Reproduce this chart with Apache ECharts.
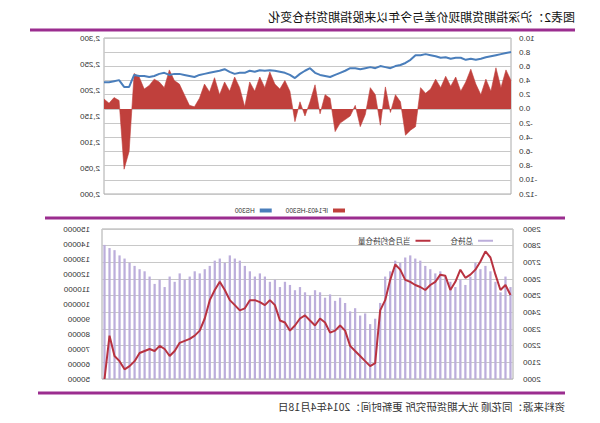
<!DOCTYPE html>
<html>
<head>
<meta charset="utf-8">
<script src="https://cdn.jsdelivr.net/npm/echarts@6/dist/echarts.min.js"></script>
<style>
html,body{margin:0;padding:0;background:#fff;}
#chart{width:600px;height:423px;transform:scaleX(-1);transform-origin:50% 50%;}
</style>
</head>
<body>
<div id="chart"></div>
<script>
// Top panel: basis IF1403 - HS300 and HS300 index
const basisValues = [4.0,5.5,3.0,5.8,2.5,4.2,2.0,3.5,5.6,3.8,
  2.5,4.5,3.2,4.6,3.0,4.2,2.8,2.2,3.0,-2.5,
  -3.0,-3.7,1.0,2.0,-0.5,3.1,-2.3,2.0,3.0,-0.8,
  -2.5,0.5,-1.0,-1.5,-2.0,-3.2,1.5,2.0,-0.7,3.4,
  1.0,-1.0,1.0,-1.8,2.5,4.0,2.8,3.5,5.2,3.0,
  4.5,2.5,3.8,0.3,3.0,4.5,2.5,3.8,2.0,4.4,
  2.4,3.5,1.5,0.3,0.5,2.0,3.5,4.0,5.5,3.0,
  3.8,4.2,3.3,2.8,4.5,5.0,-6.0,-8.5,1.2,1.6,
  0.8,1.4];
const hs300Values = [2273,2271,2269,2267,2265,2263,2260,2258,2260,2258,
  2262,2262,2260,2263,2262,2265,2267,2269,2267,2267,
  2258,2252,2248,2246,2242,2244,2246,2242,2244,2242,
  2240,2242,2242,2237,2233,2229,2225,2227,2229,2233,
  2242,2237,2231,2223,2229,2233,2235,2237,2238,2237,
  2238,2235,2237,2233,2233,2231,2235,2240,2237,2235,
  2233,2231,2229,2225,2227,2229,2231,2231,2229,2233,
  2231,2227,2225,2227,2227,2229,2206,2206,2219,2217,
  2215,2215];
// Bottom panel: total open interest (bars) and red line
const totalOI = [111300,118300,107800,114800,121800,125400,123200,127500,118300,112700,
  116200,111300,114800,118300,121800,120400,123200,125400,128900,130300,
  132400,131000,127500,128900,121800,118300,100700,90200,86600,93700,
  92300,97200,95100,100700,104200,102100,106400,104200,107800,109200,
  105600,107800,111300,109200,112700,114800,111300,116200,114800,118300,
  120400,118300,121800,125400,128900,130300,132400,127500,130300,128900,
  125400,123200,120400,121800,118300,116200,120400,114800,118300,111300,
  116200,113400,118300,121800,123200,125400,127500,130300,132400,135900,
  137300,139400];
const contractOI = [2504,2564,2534,2626,2729,2766,2705,2656,2626,2607,
  2656,2583,2534,2619,2626,2583,2564,2534,2552,2564,
  2583,2595,2656,2687,2595,2473,2412,2095,2077,2107,
  2138,2168,2199,2290,2321,2290,2278,2339,2363,2321,
  2351,2382,2363,2321,2290,2339,2351,2443,2473,2443,
  2461,2473,2473,2424,2412,2443,2473,2534,2583,2534,
  2473,2363,2290,2260,2241,2229,2217,2168,2138,2180,
  2199,2168,2180,2168,2156,2107,2077,2058,2107,2138,
  2260,2000];
const topCats = basisValues.map((_, i) => 'T' + (i + 1));
const botCats = totalOI.map((_, i) => 'B' + (i + 1));

const seriesNames = ['IF1403-HS300', 'HS300', '总持仓', '当月合约持仓量'];
const titleText = '图表2：沪深指期货期现价差与今年以来股指期货持仓变化';
const sourceText = '资料来源：同花顺 光大期货研究所 更新时间：2014年4月18日';

const chart = echarts.init(document.getElementById('chart'), null, {renderer: 'svg'});
const lab = {fontSize: 8, color: '#333', fontFamily: 'Liberation Sans'};
const purple = '#9b2d8f';
chart.setOption({
  animation: false,
  backgroundColor: '#fff',
  grid: [
    {left: 89, right: 104, top: 38, height: 156, show: true, borderColor: '#aaa', borderWidth: 1},
    {left: 87, right: 102, top: 229, height: 150, show: true, borderColor: '#aaa', borderWidth: 1}
  ],
  legend: [
    {left: 250, top: 202, itemWidth: 12, itemHeight: 4, itemGap: 14,
     textStyle: {fontSize: 6.5, color: '#333', fontFamily: 'Liberation Sans'},
     data: [{name: seriesNames[0], icon: 'rect'}, {name: seriesNames[1], icon: 'rect'}]},
    {left: 102, top: 232, itemWidth: 15, itemHeight: 2, itemGap: 20,
     textStyle: {fontSize: 7.5, color: '#333', fontFamily: 'Noto Sans CJK SC'},
     data: [{name: seriesNames[2], icon: 'rect'}, {name: seriesNames[3], icon: 'rect'}]}
  ],
  xAxis: [
    {type: 'category', gridIndex: 0, data: topCats, boundaryGap: false,
     axisLine: {show: false}, axisTick: {show: false}, axisLabel: {show: false}},
    {type: 'category', gridIndex: 1, data: botCats,
     axisLine: {show: false}, axisTick: {show: false}, axisLabel: {show: false}}
  ],
  yAxis: [
    {type: 'value', gridIndex: 0, position: 'left', min: -12, max: 10, interval: 2,
     axisLine: {show: false}, axisTick: {show: false},
     axisLabel: Object.assign({margin: 8, formatter: v => v.toFixed(1)}, lab),
     splitLine: {lineStyle: {color: '#c8c8c8', width: 1}}},
    {type: 'value', gridIndex: 0, position: 'right', min: 2000, max: 2300, interval: 50,
     axisLine: {show: false}, axisTick: {show: false},
     axisLabel: Object.assign({margin: 4, formatter: v => v.toLocaleString('en-US')}, lab),
     splitLine: {show: false}},
    {type: 'value', gridIndex: 1, position: 'left', min: 2000, max: 2900, interval: 100,
     axisLine: {show: false}, axisTick: {show: false},
     axisLabel: Object.assign({margin: 10, formatter: v => String(v)}, lab),
     splitLine: {lineStyle: {color: '#c8c8c8', width: 1}}},
    {type: 'value', gridIndex: 1, position: 'right', min: 50000, max: 150000, interval: 10000,
     axisLine: {show: false}, axisTick: {show: false},
     axisLabel: Object.assign({margin: 12, formatter: v => String(v)}, lab),
     splitLine: {show: false}}
  ],
  series: [
    {name: seriesNames[0], type: 'line', xAxisIndex: 0, yAxisIndex: 0, data: basisValues,
     symbol: 'none', color: '#c0403c', lineStyle: {width: 0.6, color: '#c0403c'},
     areaStyle: {color: '#c0403c', opacity: 1}, z: 2},
    {name: seriesNames[1], type: 'line', xAxisIndex: 0, yAxisIndex: 1, data: hs300Values,
     symbol: 'none', color: '#4a7ebb', lineStyle: {width: 2, color: '#4a7ebb'}, z: 3},
    {name: seriesNames[2], type: 'bar', xAxisIndex: 1, yAxisIndex: 3, data: totalOI,
     barWidth: '45%', color: '#bcaedb', itemStyle: {color: '#bcaedb'}, z: 2},
    {name: seriesNames[3], type: 'line', xAxisIndex: 1, yAxisIndex: 2, data: contractOI,
     symbol: 'none', color: '#b83240', lineStyle: {width: 2, color: '#b83240'}, z: 3}
  ],
  graphic: [
    {type: 'text', left: 25, top: 10,
     style: {text: titleText, fontSize: 12, fontWeight: 'normal', fill: '#111', fontFamily: 'Noto Sans CJK SC'}},
    {type: 'line', shape: {x1: 25, y1: 30, x2: 570, y2: 30}, style: {stroke: purple, lineWidth: 3}},
    {type: 'line', shape: {x1: 35, y1: 218, x2: 555, y2: 218}, style: {stroke: purple, lineWidth: 3}},
    {type: 'line', shape: {x1: 35, y1: 393, x2: 562, y2: 393}, style: {stroke: purple, lineWidth: 3}},
    {type: 'text', left: 35, top: 401,
     style: {text: sourceText, fontSize: 10.5, fill: '#333', fontFamily: 'Noto Sans CJK SC'}}
  ]
});
</script>
</body>
</html>
